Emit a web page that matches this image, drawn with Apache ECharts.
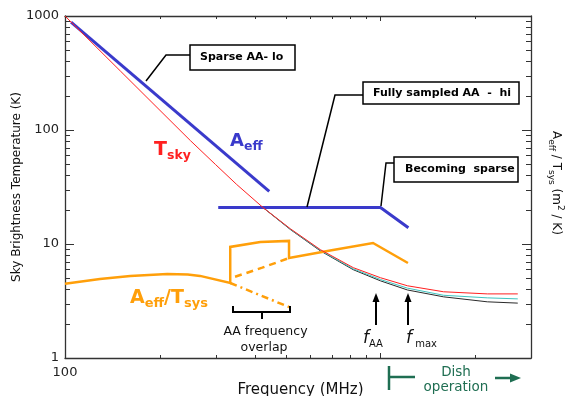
<!DOCTYPE html>
<html><head><meta charset="utf-8">
<script src="https://cdn.jsdelivr.net/npm/echarts@6/dist/echarts.min.js"></script>
<style>html,body{margin:0;padding:0;background:#fff}#c{width:568px;height:396px}</style>
</head><body><div id="c"></div>
<script>
// ---- axis ranges / tick labels ----
const xMin = 100, xMax = 3000;
const yMin = 1, yMax = 1000;
const xTickLabels = ['100'];
const yTickLabels = ['1', '10', '100', '1000'];
const xMinorTicks = [200, 300, 400, 500, 600, 700, 800, 900, 2000];
const yMinorTicks = [2, 3, 4, 5, 6, 7, 8, 9, 20, 30, 40, 50, 60, 70, 80, 90, 200, 300, 400, 500, 600, 700, 800, 900];

// ---- series (frequency MHz, value) ----
const tSkyRed = [[100, 1000], [150, 328], [200, 148.6], [250, 80.5], [300, 49.8], [350, 33.3], [425, 20.8], [518, 13.6], [645, 8.92], [820, 6.2], [1000, 5.06], [1218, 4.3], [1585, 3.81], [2181, 3.65], [2724, 3.65]];
const tSysCyan = [[425, 20.8], [518, 13.5], [645, 8.8], [820, 6.05], [1000, 4.88], [1218, 4.1], [1585, 3.55], [2181, 3.37], [2724, 3.3]];
const tSysBlack = [[425, 20.8], [518, 13.4], [645, 8.7], [820, 5.95], [1000, 4.75], [1218, 3.95], [1585, 3.44], [2181, 3.11], [2724, 3.03]];
const aeffLo = [[104.5, 884], [444, 28.9]];
const aeffHi = [[306, 20.9], [1000, 20.9], [1226, 13.9]];
const aeffTsysSolid = [[100, 4.48], [129, 4.93], [161, 5.25], [211, 5.45], [245, 5.4], [268, 5.25], [334, 4.55], [334, 9.43], [416, 10.43], [513, 10.65], [513, 7.53], [700, 8.8], [947, 10.2], [1222, 6.81]];
const aeffTsysDashed = [[346, 5.16], [422, 6.2], [513, 7.53]];
const aeffTsysDashDot = [[334, 4.55], [513, 2.8]];

const FONT = 'DejaVu Sans';
const AXC = '#333';
const BLUE = '#3a3acb';
const ORANGE = '#ff9f0a';
const RED = '#ff2020';
const GREEN = '#1f6e52';

const chart = echarts.init(document.getElementById('c'));

function lineSeries(data, color, width, type, z) {
  return {
    type: 'line', data: data, showSymbol: false, symbol: 'none', silent: true,
    lineStyle: { color: color, width: width, type: type || 'solid', cap: 'butt', join: 'miter' },
    z: z || 2, animation: false
  };
}

const option = {
  animation: false,
  backgroundColor: '#fff',
  grid: { left: 65, right: 37, top: 16, bottom: 38, containLabel: false },
  xAxis: [{
    type: 'log', logBase: 10, min: xMin, max: xMax, position: 'bottom',
    axisLine: { onZero: false, lineStyle: { color: AXC, width: 1.3 } },
    axisTick: { inside: true, length: 5, lineStyle: { color: AXC } },
    axisLabel: {
      margin: 8, color: '#222', fontFamily: FONT, fontSize: 13,
      formatter: v => (xTickLabels.indexOf(String(Math.round(v))) >= 0 ? String(Math.round(v)) : '')
    },
    splitLine: { show: false }
  }, {
    type: 'log', logBase: 10, min: xMin, max: xMax, position: 'top',
    axisLine: { onZero: false, lineStyle: { color: AXC, width: 1.3 } },
    axisTick: { inside: true, length: 5, lineStyle: { color: AXC } },
    axisLabel: { show: false }, splitLine: { show: false }
  }],
  yAxis: [{
    type: 'log', logBase: 10, min: yMin, max: yMax, position: 'left',
    axisLine: { onZero: false, lineStyle: { color: AXC, width: 1.3 } },
    axisTick: { inside: true, length: 9, lineStyle: { color: AXC } },
    axisLabel: {
      margin: 6, color: '#222', fontFamily: FONT, fontSize: 13,
      formatter: v => (yTickLabels.indexOf(String(Math.round(v))) >= 0 ? String(Math.round(v)) : '')
    },
    splitLine: { show: false }
  }, {
    type: 'log', logBase: 10, min: yMin, max: yMax, position: 'right',
    axisLine: { onZero: false, lineStyle: { color: AXC, width: 1.3 } },
    axisTick: { inside: true, length: 9, lineStyle: { color: AXC } },
    axisLabel: { show: false }, splitLine: { show: false }
  }],
  series: [
    {
      type: 'custom', coordinateSystem: 'cartesian2d', clip: false, silent: true, z: 5,
      data: xMinorTicks.map(v => [v, yMin]),
      renderItem: function (params, api) {
        const v = api.value(0);
        const b = api.coord([v, yMin]), t = api.coord([v, yMax]);
        const x = Math.round(b[0]) + 0.5;
        return { type: 'group', children: [
          { type: 'line', shape: { x1: x, y1: b[1], x2: x, y2: b[1] - 3 }, style: { stroke: AXC, lineWidth: 1 } },
          { type: 'line', shape: { x1: x, y1: t[1], x2: x, y2: t[1] + 3 }, style: { stroke: AXC, lineWidth: 1 } }
        ] };
      }
    },
    {
      type: 'custom', coordinateSystem: 'cartesian2d', clip: false, silent: true, z: 5,
      data: yMinorTicks.map(v => [xMin, v]),
      renderItem: function (params, api) {
        const v = api.value(1);
        const l = api.coord([xMin, v]), r = api.coord([xMax, v]);
        const y = Math.round(l[1]) + 0.5;
        return { type: 'group', children: [
          { type: 'line', shape: { x1: l[0], y1: y, x2: l[0] + 5, y2: y }, style: { stroke: AXC, lineWidth: 1 } },
          { type: 'line', shape: { x1: r[0], y1: y, x2: r[0] - 5, y2: y }, style: { stroke: AXC, lineWidth: 1 } }
        ] };
      }
    },
    lineSeries(tSysBlack, '#2a2a2a', 1, 'solid', 2),
    lineSeries(tSysCyan, '#40c4c0', 1, 'solid', 2),
    lineSeries(aeffLo, BLUE, 3, 'solid', 3),
    lineSeries(aeffHi, BLUE, 3, 'solid', 3),
    lineSeries(tSkyRed, RED, 1, 'solid', 4),
    lineSeries(aeffTsysSolid, ORANGE, 2.5, 'solid', 3),
    lineSeries(aeffTsysDashed, ORANGE, 2.5, [7, 5], 3),
    lineSeries(aeffTsysDashDot, ORANGE, 2.5, [7, 4, 2, 4], 3)
  ],
  graphic: [
    // annotation boxes
    { type: 'polyline', shape: { points: [[190, 55], [166, 55], [146, 81]] }, style: { stroke: '#000', lineWidth: 1.5, fill: null }, z: 10 },
    { type: 'rect', shape: { x: 190, y: 45, width: 105, height: 25 }, style: { fill: '#fff', stroke: '#000', lineWidth: 1.5 }, z: 10 },
    { type: 'text', x: 200, y: 57.5, style: { text: 'Sparse AA- lo', font: 'bold 11px "DejaVu Sans"', fill: '#000', verticalAlign: 'middle' }, z: 11 },

    { type: 'polyline', shape: { points: [[363, 95], [335, 95], [307, 207]] }, style: { stroke: '#000', lineWidth: 1.5, fill: null }, z: 10 },
    { type: 'rect', shape: { x: 363, y: 82, width: 156, height: 22 }, style: { fill: '#fff', stroke: '#000', lineWidth: 1.5 }, z: 10 },
    { type: 'text', x: 373, y: 93, style: { text: 'Fully sampled AA  -  hi', font: 'bold 11px "DejaVu Sans"', fill: '#000', verticalAlign: 'middle' }, z: 11 },

    { type: 'polyline', shape: { points: [[394, 163], [386, 163], [381, 206]] }, style: { stroke: '#000', lineWidth: 1.5, fill: null }, z: 10 },
    { type: 'rect', shape: { x: 394, y: 157, width: 124, height: 25 }, style: { fill: '#fff', stroke: '#000', lineWidth: 1.5 }, z: 10 },
    { type: 'text', x: 405, y: 169, style: { text: 'Becoming  sparse', font: 'bold 11px "DejaVu Sans"', fill: '#000', verticalAlign: 'middle' }, z: 11 },

    // series labels
    { type: 'text', x: 154, y: 150, z: 11, style: {
      text: '{m|T}{s|sky}', verticalAlign: 'middle',
      rich: { m: { fontSize: 19, fontWeight: 'bold', fontFamily: FONT, fill: RED, lineHeight: 24, verticalAlign: 'middle' },
              s: { fontSize: 12.5, fontWeight: 'bold', fontFamily: FONT, fill: RED, lineHeight: 8, verticalAlign: 'bottom' } } } },
    { type: 'text', x: 230, y: 141.5, z: 11, style: {
      text: '{m|A}{s|eff}', verticalAlign: 'middle',
      rich: { m: { fontSize: 18, fontWeight: 'bold', fontFamily: FONT, fill: BLUE, lineHeight: 24, verticalAlign: 'middle' },
              s: { fontSize: 12.5, fontWeight: 'bold', fontFamily: FONT, fill: BLUE, lineHeight: 9, verticalAlign: 'bottom' } } } },
    { type: 'text', x: 130, y: 298, z: 11, style: {
      text: '{m|A}{s|eff}{m|/T}{s|sys}', verticalAlign: 'middle',
      rich: { m: { fontSize: 19, fontWeight: 'bold', fontFamily: FONT, fill: ORANGE, lineHeight: 24, verticalAlign: 'middle' },
              s: { fontSize: 13, fontWeight: 'bold', fontFamily: FONT, fill: ORANGE, lineHeight: 8, verticalAlign: 'bottom' } } } },

    // overlap bracket
    { type: 'polyline', shape: { points: [[233, 306], [233, 312], [290, 312], [290, 306]] }, style: { stroke: '#000', lineWidth: 2, fill: null }, z: 10 },
    { type: 'line', shape: { x1: 262, y1: 312, x2: 262, y2: 319 }, style: { stroke: '#000', lineWidth: 2 }, z: 10 },
    { type: 'text', x: 265.5, y: 332, style: { text: 'AA frequency', font: '12.5px "DejaVu Sans"', fill: '#111', align: 'center', verticalAlign: 'middle' }, z: 11 },
    { type: 'text', x: 264, y: 348, style: { text: 'overlap', font: '12.5px "DejaVu Sans"', fill: '#111', align: 'center', verticalAlign: 'middle' }, z: 11 },

    // f_AA / f_max arrows
    { type: 'line', shape: { x1: 376, y1: 325, x2: 376, y2: 300 }, style: { stroke: '#000', lineWidth: 2 }, z: 10 },
    { type: 'polygon', shape: { points: [[376, 293], [372.5, 302], [379.5, 302]] }, style: { fill: '#000' }, z: 10 },
    { type: 'line', shape: { x1: 408, y1: 325, x2: 408, y2: 300 }, style: { stroke: '#000', lineWidth: 2 }, z: 10 },
    { type: 'polygon', shape: { points: [[408, 293], [404.5, 302], [411.5, 302]] }, style: { fill: '#000' }, z: 10 },
    { type: 'text', x: 363, y: 339, z: 11, style: {
      text: '{f|f}{s|AA}', verticalAlign: 'middle',
      rich: { f: { fontSize: 17, fontStyle: 'italic', fontFamily: FONT, fill: '#111', lineHeight: 20, verticalAlign: 'middle' },
              s: { fontSize: 10, fontFamily: FONT, fill: '#111', lineHeight: 15, verticalAlign: 'bottom' } } } },
    { type: 'text', x: 406, y: 339, z: 11, style: {
      text: '{f|f}{s| max}', verticalAlign: 'middle',
      rich: { f: { fontSize: 17, fontStyle: 'italic', fontFamily: FONT, fill: '#111', lineHeight: 20, verticalAlign: 'middle' },
              s: { fontSize: 10, fontFamily: FONT, fill: '#111', lineHeight: 15, verticalAlign: 'bottom' } } } },

    // dish operation
    { type: 'line', shape: { x1: 389, y1: 366, x2: 389, y2: 390 }, style: { stroke: GREEN, lineWidth: 2.5 }, z: 10 },
    { type: 'line', shape: { x1: 389, y1: 377, x2: 415, y2: 377 }, style: { stroke: GREEN, lineWidth: 2.5 }, z: 10 },
    { type: 'text', x: 456, y: 372, style: { text: 'Dish', font: '13.5px "DejaVu Sans"', fill: GREEN, align: 'center', verticalAlign: 'middle' }, z: 11 },
    { type: 'text', x: 456, y: 387, style: { text: 'operation', font: '13.5px "DejaVu Sans"', fill: GREEN, align: 'center', verticalAlign: 'middle' }, z: 11 },
    { type: 'line', shape: { x1: 495, y1: 378, x2: 512, y2: 378 }, style: { stroke: GREEN, lineWidth: 2.5 }, z: 10 },
    { type: 'polygon', shape: { points: [[521, 378], [510, 373.5], [510, 382.5]] }, style: { fill: GREEN }, z: 10 },

    // axis titles
    { type: 'text', x: 300.5, y: 390, style: { text: 'Frequency (MHz)', font: '15px "DejaVu Sans"', fill: '#111', align: 'center', verticalAlign: 'middle' }, z: 11 },
    { type: 'text', x: 17, y: 187, rotation: Math.PI / 2, style: { text: 'Sky Brightness Temperature (K)', font: '12px "DejaVu Sans"', fill: '#111', align: 'center', verticalAlign: 'middle' }, z: 11 },
    { type: 'text', x: 556, y: 183, rotation: -Math.PI / 2, z: 11, style: {
      text: '{n|A}{s|eff}{n| / T}{s|sys}{n| (m}{p|2}{n| / K)}', align: 'center', verticalAlign: 'middle',
      rich: { n: { fontSize: 12, fontFamily: FONT, fill: '#111', lineHeight: 18, verticalAlign: 'middle' },
              s: { fontSize: 9, fontFamily: FONT, fill: '#111', lineHeight: 9, verticalAlign: 'bottom' },
              p: { fontSize: 9, fontFamily: FONT, fill: '#111', lineHeight: 9, verticalAlign: 'top' } } } }
  ]
};
chart.setOption(option);
</script>
</body></html>
